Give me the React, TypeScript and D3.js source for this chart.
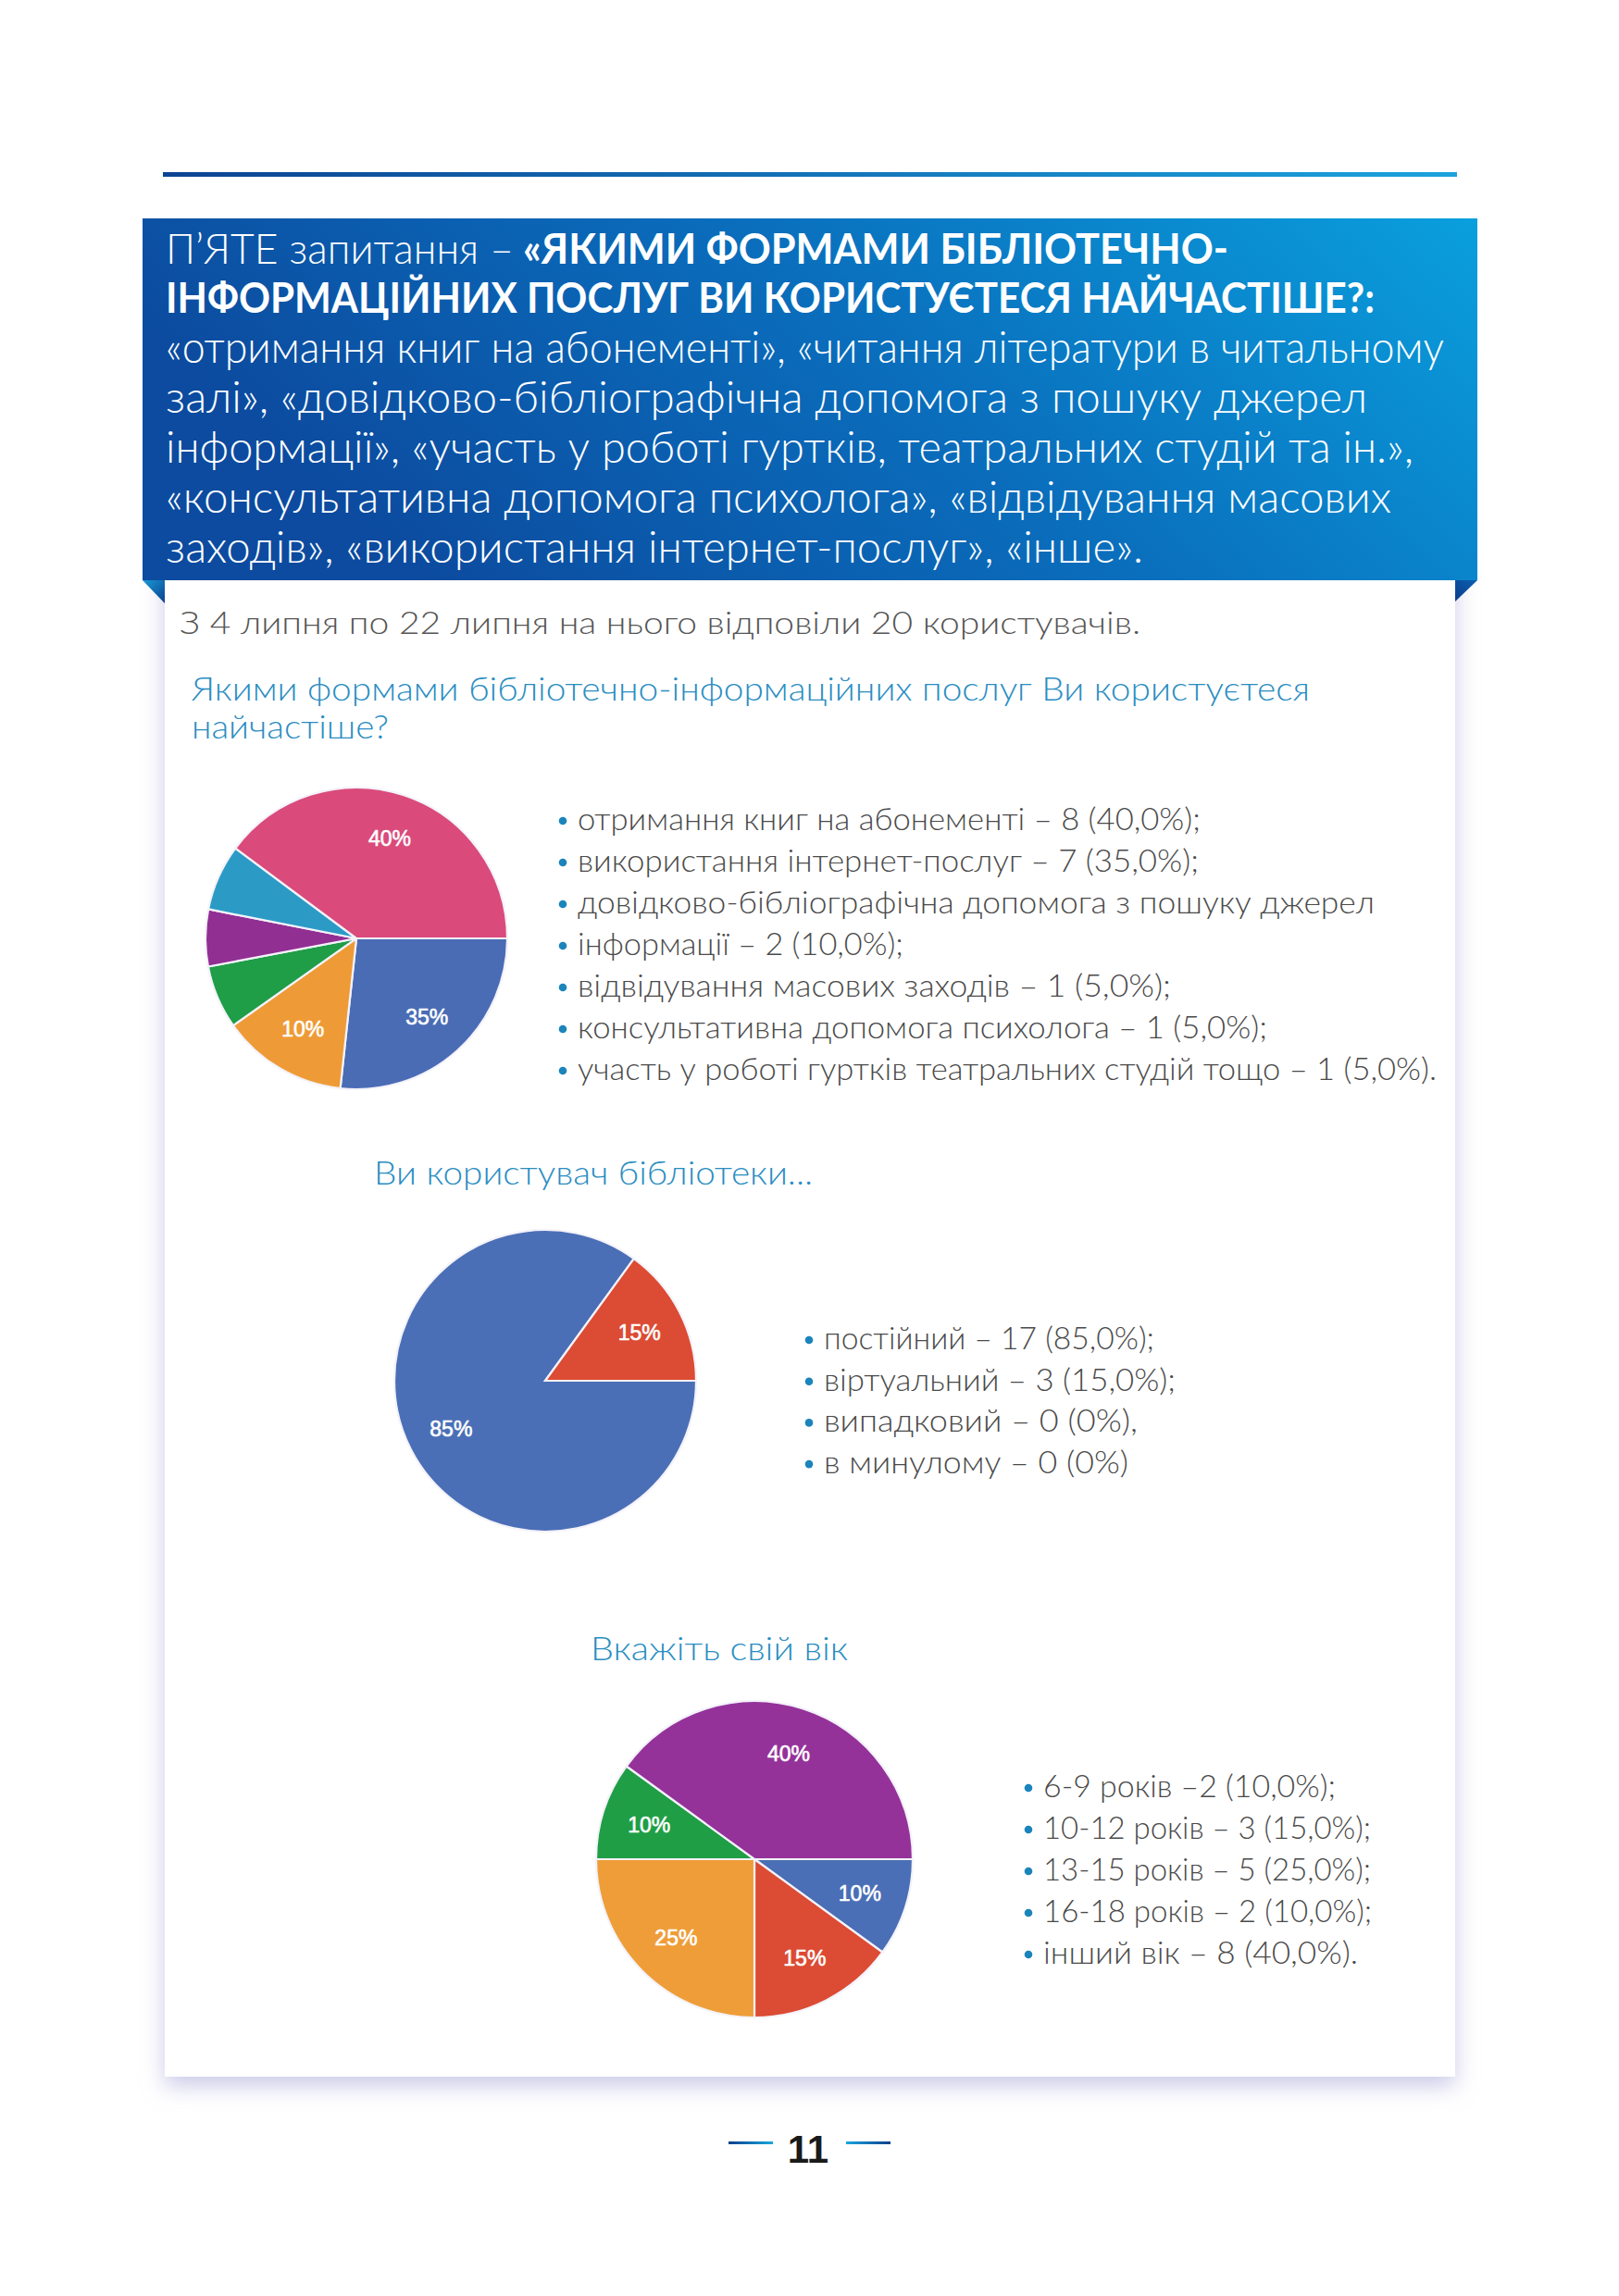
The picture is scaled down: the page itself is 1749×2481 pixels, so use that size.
import * as d3 from "d3";

// ── Data ────────────────────────────────────────────────────────────────────

// Q1: forms of library services (slice shares as drawn, clockwise from 3 o'clock)
const servicesShares = [26.7, 13.5, 6.8, 6.1, 7.1, 39.8];
const servicesLabels = ["35%", "10%", "", "", "", "40%"];
const servicesColors = ["#4a6cb5", "#ee9b37", "#1f9d47", "#912f93", "#2b9bc6", "#da4a7b"];
const servicesLegend = [
  "отримання книг на абонементі – 8 (40,0%);",
  "використання інтернет-послуг  – 7 (35,0%);",
  "довідково-бібліографічна допомога з пошуку джерел",
  "інформації – 2 (10,0%);",
  "відвідування масових заходів – 1 (5,0%);",
  "консультативна допомога психолога – 1 (5,0%);",
  "участь у роботі гуртків театральних студій тощо – 1 (5,0%).",
];

// Q2: user type
const userShares = [85, 15];
const userLabels = ["85%", "15%"];
const userColors = ["#4a6fb6", "#dc4b33"];
const userLegend = [
  "постійний – 17 (85,0%);",
  "віртуальний – 3 (15,0%);",
  "випадковий – 0 (0%),",
  "в минулому – 0 (0%)",
];

// Q3: age
const ageShares = [10, 15, 25, 10, 40];
const ageLabels = ["10%", "15%", "25%", "10%", "40%"];
const ageColors = ["#4a6fb6", "#dc4b33", "#ee9d38", "#1f9e46", "#94329a"];
const ageLegend = [
  "6-9 років –2 (10,0%);",
  "10-12 років – 3 (15,0%);",
  "13-15 років – 5 (25,0%);",
  "16-18 років – 2 (10,0%);",
  "інший вік – 8 (40,0%).",
];

const headerLines = [
  "«отримання книг на абонементі», «читання літератури в читальному",
  "залі», «довідково-бібліографічна допомога з пошуку джерел",
  "інформації», «участь у роботі гуртків, театральних студій та ін.»,",
  "«консультативна допомога психолога», «відвідування масових",
  "заходів», «використання інтернет-послуг», «інше».",
];

// ── Layout ──────────────────────────────────────────────────────────────────

const W = 1749;
const H = 2481;
const LIGHT = "Lato, 'Open Sans', sans-serif";
const ARIAL = "'Liberation Sans', Arial, sans-serif";

const headerEnds = [1560, 1477, 1527, 1503, 1235];
const servicesEnds = [1297, 1295, 1485, 976, 1265, 1369, 1552];
const userEnds = [1247, 1270, 1229, 1219];
const ageEnds = [1443, 1481, 1481, 1482, 1467];

function Fit({ x, y, x2, size, weight = 300, fill, children }: any) {
  return (
    <text
      x={x}
      y={y}
      textLength={x2 - x}
      lengthAdjust="spacingAndGlyphs"
      fontFamily={LIGHT}
      fontSize={size}
      fontWeight={weight}
      fill={fill}
    >
      {children}
    </text>
  );
}

function Pie({ cx, cy, r, values, colors, labels }: any) {
  const pie = d3
    .pie<number>()
    .sort(null)
    .value((d) => d)
    .startAngle(Math.PI / 2)
    .endAngle(Math.PI / 2 + 2 * Math.PI);
  const arcs = pie(values);
  const arc = d3.arc<d3.PieArcDatum<number>>().innerRadius(0).outerRadius(r);
  const labelArc = d3
    .arc<d3.PieArcDatum<number>>()
    .innerRadius(r * 0.7)
    .outerRadius(r * 0.7);
  return (
    <g transform={`translate(${cx},${cy})`}>
      {arcs.map((a, i) => (
        <path key={i} d={arc(a) ?? ""} fill={colors[i]} stroke="#f4f2fa" strokeWidth={2.2} />
      ))}
      {arcs.map((a, i) => {
        const [lx, ly] = labelArc.centroid(a);
        return labels[i] ? (
          <text
            key={"l" + i}
            x={lx}
            y={ly}
            textAnchor="middle"
            dominantBaseline="central"
            fontFamily={ARIAL}
            fontSize={23}
            fill="#ffffff"
            stroke="#ffffff"
            strokeWidth={0.6}
          >
            {labels[i]}
          </text>
        ) : null;
      })}
    </g>
  );
}

function Legend({ items, ends, x, y0, step }: any) {
  return (
    <g>
      {items.map((t: string, i: number) => (
        <g key={i}>
          <circle cx={x - 16} cy={y0 + i * step - 10} r={4.3} fill="#1b84bb" />
          <Fit x={x} y={y0 + i * step} x2={ends[i]} size={33} fill="#4a4a4a">
            {t}
          </Fit>
        </g>
      ))}
    </g>
  );
}

export default function App() {
  return (
    <svg
      width={W}
      height={H}
      viewBox={`0 0 ${W} ${H}`}
      style={{ position: "absolute", left: 0, top: 0, background: "#fff" }}
    >
      <defs>
        <linearGradient id="rule" x1="0" x2="1" y1="0" y2="0">
          <stop offset="0" stopColor="#0d4393" />
          <stop offset="1" stopColor="#1ba3dc" />
        </linearGradient>
        <linearGradient id="box" x1="0" x2="1" y1="0.3" y2="0">
          <stop offset="0" stopColor="#0c4b9f" />
          <stop offset="0.5" stopColor="#0a6fbd" />
          <stop offset="1" stopColor="#0a9fdd" />
        </linearGradient>
        <linearGradient id="foldL" x1="0" x2="1" y1="0" y2="1">
          <stop offset="0" stopColor="#1a9ad8" />
          <stop offset="1" stopColor="#0b3f8c" />
        </linearGradient>
        <linearGradient id="foldR" x1="1" x2="0" y1="0" y2="1">
          <stop offset="0" stopColor="#0b5fb0" />
          <stop offset="1" stopColor="#0b3f8c" />
        </linearGradient>
        <linearGradient id="pgL" x1="0" x2="1">
          <stop offset="0" stopColor="#0b3f8c" />
          <stop offset="1" stopColor="#1aa6de" />
        </linearGradient>
        <linearGradient id="pgR" x1="0" x2="1">
          <stop offset="0" stopColor="#1aa6de" />
          <stop offset="1" stopColor="#0b3f8c" />
        </linearGradient>
        <filter id="shadow" x="-5%" y="-5%" width="110%" height="110%">
          <feDropShadow dx="0" dy="10" stdDeviation="12" floodColor="#b9b8e0" floodOpacity="0.75" />
        </filter>
      </defs>

      {/* top rule */}
      <rect x={176} y={186} width={1398} height={5} fill="url(#rule)" />

      {/* card */}
      <rect x={178} y={600} width={1394} height={1644} fill="#ffffff" filter="url(#shadow)" />

      {/* header box + folds */}
      <polygon points="154,627 178,627 178,652" fill="url(#foldL)" />
      <polygon points="1572,627 1596,627 1572,650" fill="url(#foldR)" />
      <rect x={154} y={236} width={1442} height={391} fill="url(#box)" />

      <Fit x={179} y={285} x2={555} size={45} fill="#ffffff">
        П’ЯТЕ запитання –
      </Fit>
      <Fit x={565} y={285} x2={1327} size={45} weight={700} fill="#ffffff">
        «ЯКИМИ ФОРМАМИ БІБЛІОТЕЧНО-
      </Fit>
      <Fit x={179} y={338} x2={1485} size={45} weight={700} fill="#ffffff">
        ІНФОРМАЦІЙНИХ ПОСЛУГ ВИ КОРИСТУЄТЕСЯ НАЙЧАСТІШЕ?:
      </Fit>
      {headerLines.map((t, i) => (
        <Fit key={i} x={179} y={392 + i * 54} x2={headerEnds[i]} size={47} fill="#ffffff">
          {t}
        </Fit>
      ))}

      {/* intro */}
      <Fit x={194} y={685} x2={1232} size={33} fill="#555555">
        З 4 липня по 22 липня на нього відповіли 20 користувачів.
      </Fit>

      {/* Q1 */}
      <Fit x={207} y={757} x2={1415} size={35} fill="#2a8dc2">
        Якими формами бібліотечно-інформаційних послуг Ви користуєтеся
      </Fit>
      <Fit x={207} y={798} x2={420} size={35} fill="#2a8dc2">
        найчастіше?
      </Fit>
      <Pie cx={385} cy={1014} r={163} values={servicesShares} colors={servicesColors} labels={servicesLabels} />
      <Legend items={servicesLegend} ends={servicesEnds} x={624} y0={897} step={45} />

      {/* Q2 */}
      <Fit x={404} y={1280} x2={878} size={35} fill="#2a8dc2">
        Ви користувач бібліотеки...
      </Fit>
      <Pie cx={589} cy={1492} r={163} values={userShares} colors={userColors} labels={userLabels} />
      <Legend items={userLegend} ends={userEnds} x={890} y0={1458} step={44.7} />

      {/* Q3 */}
      <Fit x={638} y={1794} x2={916} size={35} fill="#2a8dc2">
        Вкажіть свій вік
      </Fit>
      <Pie cx={815} cy={2009} r={171} values={ageShares} colors={ageColors} labels={ageLabels} />
      <Legend items={ageLegend} ends={ageEnds} x={1127} y0={1942} step={45} />

      {/* page number */}
      <rect x={787} y={2314} width={48} height={3} fill="url(#pgL)" />
      <rect x={914} y={2314} width={48} height={3} fill="url(#pgR)" />
      <text x={873} y={2337} textAnchor="middle" fontFamily={ARIAL} fontWeight={700} fontSize={42} fill="#1a1a1a">
        11
      </text>
    </svg>
  );
}
